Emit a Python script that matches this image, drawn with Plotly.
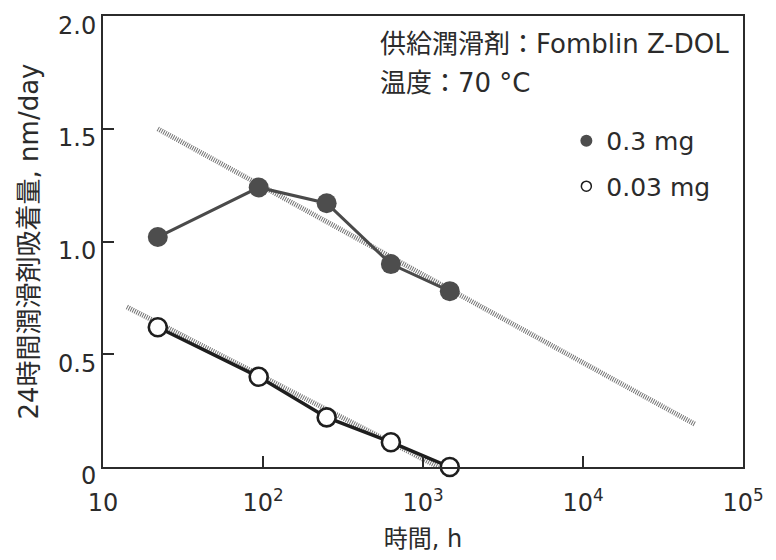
import plotly.graph_objects as go

# Elapsed time (h) for each 24-hour measurement
hours = [22, 94, 250, 630, 1470]

# 24-hour lubricant pickup (nm/day) for the two supplied amounts
pickup_03mg = [1.02, 1.24, 1.17, 0.90, 0.78]
pickup_003mg = [0.62, 0.40, 0.22, 0.11, 0.0]

# Fitted trend lines (end points)
trend_03_x = [22, 50000]
trend_03_y = [1.50, 0.19]
trend_003_x = [14.1, 1250]
trend_003_y = [0.71, 0.0]

series_names = ["0.3 mg", "0.03 mg"]
x_tickvals = [10, 100, 1000, 10000, 100000]
x_ticktext = ["10", "10<sup>2</sup>", "10<sup>3</sup>", "10<sup>4</sup>", "10<sup>5</sup>"]
y_tickvals = [0, 0.5, 1.0, 1.5, 2.0]
y_ticktext = ["0", "0.5", "1.0", "1.5", "2.0"]

FONT = "DejaVu Sans, Noto Sans CJK JP, sans-serif"
INK = "#2b2b2b"

fig = go.Figure()

# hatched trend bands
for tx, ty in [(trend_03_x, trend_03_y), (trend_003_x, trend_003_y)]:
    fig.add_trace(go.Scatter(
        x=tx, y=ty, mode="lines",
        line=dict(color="#737373", width=5, dash="1px,1.2px"),
        showlegend=False, hoverinfo="skip", cliponaxis=False,
    ))

# 0.3 mg: filled circles
fig.add_trace(go.Scatter(
    x=hours, y=pickup_03mg, mode="lines+markers",
    line=dict(color="#4a4a4a", width=3),
    marker=dict(symbol="circle", size=20, color="#4d4d4d",
                line=dict(color="#4d4d4d", width=0)),
    showlegend=False, cliponaxis=False,
))

# 0.03 mg: open circles
fig.add_trace(go.Scatter(
    x=hours, y=pickup_003mg, mode="lines+markers",
    line=dict(color="#1e1e1e", width=3.5),
    marker=dict(symbol="circle", size=18, color="white",
                line=dict(color="#1e1e1e", width=2.6)),
    showlegend=False, cliponaxis=False,
))

# legend entries (marker only)
fig.add_trace(go.Scatter(
    x=[None], y=[None], mode="markers", name=series_names[0],
    marker=dict(symbol="circle", size=12, color="#4d4d4d"),
    legendgroup="a",
))
fig.add_trace(go.Scatter(
    x=[None], y=[None], mode="markers", name=series_names[1],
    marker=dict(symbol="circle", size=10, color="white",
                line=dict(color="#1e1e1e", width=1.5)),
    legendgroup="b",
))

axis_common = dict(
    showline=True, linecolor=INK, linewidth=2, mirror=True,
    ticks="inside", ticklen=11, tickwidth=2, tickcolor=INK,
    showgrid=False, zeroline=False,
    tickfont=dict(family=FONT, size=24, color=INK),
)

fig.update_xaxes(
    type="log", range=[1, 5],
    tickmode="array", tickvals=x_tickvals, ticktext=x_ticktext,
    ticklabelstandoff=13,
    title=dict(text="時間, h", font=dict(family=FONT, size=24, color=INK), standoff=14),
    **axis_common,
)
fig.update_yaxes(
    range=[0, 2.0005],
    tickmode="array", tickvals=y_tickvals, ticktext=y_ticktext,
    ticklabelshift=9,
    title=dict(text="24時間潤滑剤吸着量, nm/day", font=dict(family=FONT, size=26, color=INK), standoff=12),
    **axis_common,
)

fig.add_annotation(
    text="供給潤滑剤：Fomblin Z-DOL", xref="paper", yref="paper",
    x=0.43, y=0.937, xanchor="left", yanchor="middle", showarrow=False,
    font=dict(family=FONT, size=26, color=INK),
)
fig.add_annotation(
    text="温度：70 °C", xref="paper", yref="paper",
    x=0.43, y=0.8525, xanchor="left", yanchor="middle", showarrow=False,
    font=dict(family=FONT, size=26, color=INK),
)

fig.update_layout(
    width=776, height=560,
    margin=dict(l=103, r=24, t=14, b=85),
    paper_bgcolor="white", plot_bgcolor="white",
    showlegend=True,
    legend=dict(
        x=0.724, y=0.774, xanchor="left", yanchor="top",
        bgcolor="rgba(0,0,0,0)", borderwidth=0,
        font=dict(family=FONT, size=25, color=INK),
        traceorder="grouped", tracegroupgap=10,
        itemclick=False, itemdoubleclick=False,
    ),
)

fig.write_html("out.html")
